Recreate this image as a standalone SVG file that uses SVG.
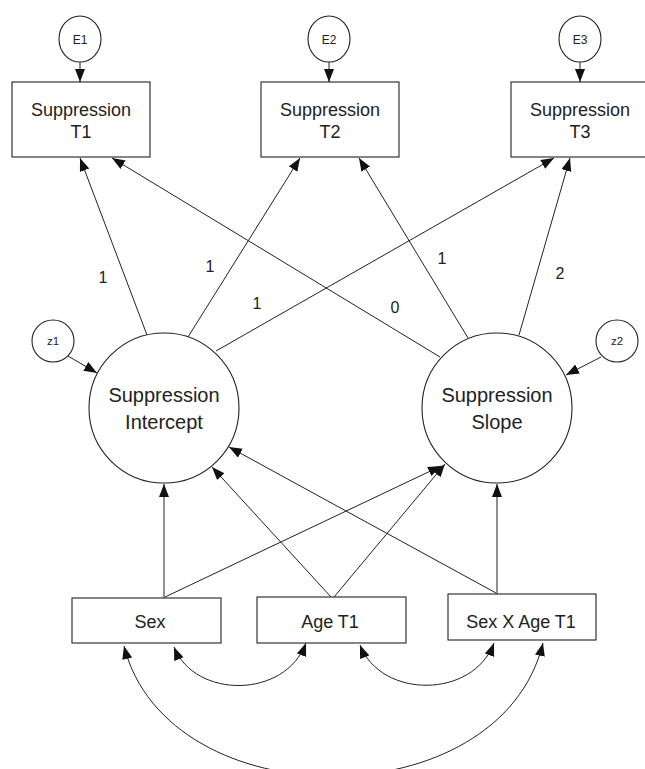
<svg xmlns="http://www.w3.org/2000/svg" width="645" height="769" viewBox="0 0 645 769">
<style>
.n{fill:#fff;stroke:#222;stroke-width:1.1}
.t{font-family:"Liberation Sans",Arial,sans-serif;fill:#222;text-anchor:middle}
.c line,.c path{stroke:#222;stroke-width:1;fill:none}
.a{marker-end:url(#ah)}
.b{marker-start:url(#ahs);marker-end:url(#ah)}
</style>
<defs>
<marker id="ah" markerUnits="userSpaceOnUse" markerWidth="14" markerHeight="11" refX="13" refY="5" orient="auto"><path d="M0,0 L13,5 L0,10 z" fill="#111"/></marker>
<marker id="ahs" markerUnits="userSpaceOnUse" markerWidth="14" markerHeight="11" refX="0" refY="5" orient="auto"><path d="M13,0 L0,5 L13,10 z" fill="#111"/></marker>
</defs>
<g class="c" id="connectors">
<line class="a" x1="80" y1="62" x2="80" y2="82"/>
<line class="a" x1="329" y1="62" x2="329" y2="82"/>
<line class="a" x1="580" y1="62" x2="580" y2="82"/>
<line class="a" x1="147" y1="335" x2="80" y2="158"/>
<line class="a" x1="188" y1="337" x2="300" y2="158"/>
<line class="a" x1="216" y1="351" x2="554" y2="158"/>
<line class="a" x1="440" y1="357" x2="112" y2="158"/>
<line class="a" x1="468" y1="338" x2="359" y2="158"/>
<line class="a" x1="519" y1="335" x2="570" y2="158"/>
<line class="a" x1="68" y1="356" x2="97" y2="373"/>
<line class="a" x1="601" y1="357" x2="566" y2="375"/>
<line class="a" x1="164" y1="598" x2="164" y2="484"/>
<line class="a" x1="165" y1="597" x2="441" y2="466"/>
<line class="a" x1="331" y1="597" x2="212" y2="467"/>
<line class="a" x1="334" y1="597" x2="445" y2="464"/>
<line class="a" x1="497" y1="594" x2="497" y2="484"/>
<line class="a" x1="496" y1="593" x2="229" y2="447"/>
<path class="b" d="M174,647 C195,699 285,699 306,643"/>
<path class="b" d="M360,645 C381,699 473,699 494,643"/>
<path class="b" d="M124,646 C168,820 500,820 543,643"/>
</g>
<g id="E1"><ellipse class="n" cx="80" cy="39" rx="21" ry="23"/><text class="t" x="80" y="44" font-size="12">E1</text></g>
<g id="E2"><ellipse class="n" cx="329" cy="39" rx="21" ry="23"/><text class="t" x="329" y="44" font-size="12">E2</text></g>
<g id="E3"><ellipse class="n" cx="580" cy="39" rx="21" ry="23"/><text class="t" x="580" y="44" font-size="12">E3</text></g>
<g id="T1"><rect class="n" x="12" y="82" width="138" height="75"/><text class="t" x="81" y="116" font-size="18">Suppression</text><text class="t" x="81" y="138" font-size="18">T1</text></g>
<g id="T2"><rect class="n" x="261" y="82" width="138" height="75"/><text class="t" x="330" y="116" font-size="18">Suppression</text><text class="t" x="330" y="138" font-size="18">T2</text></g>
<g id="T3"><rect class="n" x="511" y="82" width="138" height="75"/><text class="t" x="580" y="116" font-size="18">Suppression</text><text class="t" x="580" y="138" font-size="18">T3</text></g>
<g id="z1"><ellipse class="n" cx="53" cy="341" rx="21" ry="21"/><text class="t" x="53" y="345" font-size="11.5">z1</text></g>
<g id="z2"><ellipse class="n" cx="617" cy="341" rx="21" ry="21"/><text class="t" x="617" y="345" font-size="11.5">z2</text></g>
<g id="intercept"><circle class="n" cx="164" cy="408" r="75"/><text class="t" x="164" y="402" font-size="20">Suppression</text><text class="t" x="164" y="429" font-size="20">Intercept</text></g>
<g id="slope"><circle class="n" cx="497" cy="408" r="75"/><text class="t" x="497" y="402" font-size="20">Suppression</text><text class="t" x="497" y="429" font-size="20">Slope</text></g>
<g id="sex"><rect class="n" x="72" y="598" width="149" height="45"/><text class="t" x="150" y="628" font-size="18">Sex</text></g>
<g id="age"><rect class="n" x="257" y="597" width="149" height="46"/><text class="t" x="330" y="628" font-size="18">Age T1</text></g>
<g id="sexage"><rect class="n" x="448" y="594" width="148" height="46"/><text class="t" x="521" y="628" font-size="18">Sex X Age T1</text></g>
<g id="labels">
<text class="t" x="103" y="283" font-size="16">1</text>
<text class="t" x="210" y="272" font-size="16">1</text>
<text class="t" x="257" y="309" font-size="16">1</text>
<text class="t" x="395" y="313" font-size="16">0</text>
<text class="t" x="442" y="264" font-size="16">1</text>
<text class="t" x="560" y="279" font-size="16">2</text>
</g>
</svg>
